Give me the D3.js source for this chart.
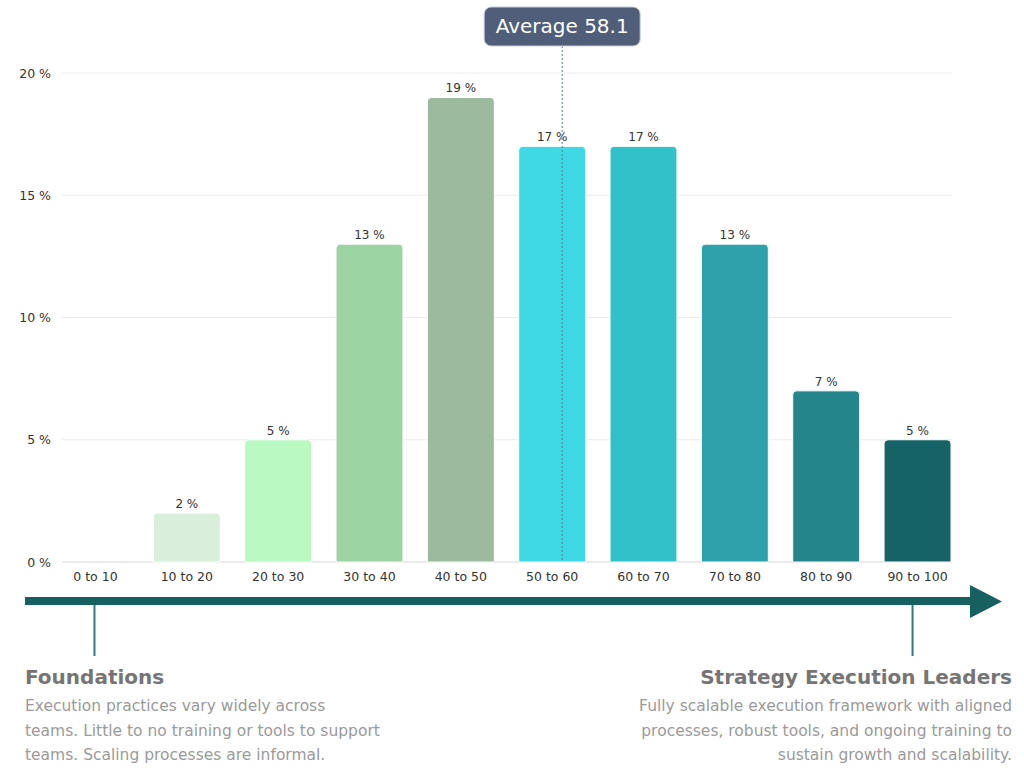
<!DOCTYPE html>
<html>
<head>
<meta charset="UTF-8" />
<title>Execution maturity distribution</title>
<script src="https://d3js.org/d3.v7.min.js"></script>
<style>
	body { margin: 0; background: #fff; }
	svg { font-family: "DejaVu Sans", Inter, sans-serif; }
</style>
</head>
<body>
<svg id="chart"></svg>
<script type="text/javascript">
// data
const categories = ["0 to 10", "10 to 20", "20 to 30", "30 to 40", "40 to 50",
	"50 to 60", "60 to 70", "70 to 80", "80 to 90", "90 to 100"]
const shares = [0, 2, 5, 13, 19, 17, 17, 13, 7, 5]
const barColors = ["#d9eedb", "#d9eedb", "#bbf9c3", "#9dd4a3", "#9bba9e",
	"#3ed9e3", "#33c1c9", "#2ea2aa", "#24868a", "#156367"]
const yTicks = [0, 5, 10, 15, 20]
const average = 58.1

const leftTitle = "Foundations"
const leftText = ["Execution practices vary widely across",
	"teams. Little to no training or tools to support",
	"teams. Scaling processes are informal."]
const rightTitle = "Strategy Execution Leaders"
const rightText = ["Fully scalable execution framework with aligned",
	"processes, robust tools, and ongoing training to",
	"sustain growth and scalability."]

const W = 1024, H = 774
const svg = d3.select("#chart").attr("width", W).attr("height", H)

const x = d3.scaleBand().domain(categories).range([62, 951])
	.paddingInner(0.267).paddingOuter(0)
const y = d3.scaleLinear().domain([0, 20]).range([562, 73])
// continuous 0..100 score axis used for the average marker
const score = d3.scaleLinear().domain([0, 100]).range([23, 951])

// gridlines
svg.append("g")
	.selectAll("line")
	.data(yTicks)
	.join("line")
	.attr("x1", 62).attr("x2", 952)
	.attr("y1", d => y(d)).attr("y2", d => y(d))
	.attr("stroke", d => d === 0 ? "#d6d6d6" : "#ececec")
	.attr("stroke-width", 1)

// y axis labels
svg.append("g")
	.selectAll("text")
	.data(yTicks)
	.join("text")
	.attr("x", 51).attr("y", d => y(d) + 4.5)
	.attr("text-anchor", "end")
	.attr("font-size", 12.5)
	.attr("fill", "#333")
	.text(d => d + " %")

// bars, rounded at the top
function topRounded(x0, y0, w, h, r) {
	if (h <= 0) return ""
	r = Math.min(r, h)
	const p = d3.path()
	p.moveTo(x0, y0 + h)
	p.lineTo(x0, y0 + r)
	p.quadraticCurveTo(x0, y0, x0 + r, y0)
	p.lineTo(x0 + w - r, y0)
	p.quadraticCurveTo(x0 + w, y0, x0 + w, y0 + r)
	p.lineTo(x0 + w, y0 + h)
	p.closePath()
	return p.toString()
}

const rows = categories.map((c, i) => ({ cat: c, v: shares[i], color: barColors[i] }))

svg.append("g")
	.selectAll("path")
	.data(rows)
	.join("path")
	.attr("d", d => topRounded(x(d.cat), y(d.v), x.bandwidth(), y(0) - y(d.v), 4))
	.attr("fill", d => d.color)
	.attr("stroke", "#ffffff")
	.attr("stroke-width", 1)

// value labels
svg.append("g")
	.selectAll("text")
	.data(rows.filter(d => d.v > 0))
	.join("text")
	.attr("x", d => x(d.cat) + x.bandwidth() / 2)
	.attr("y", d => y(d.v) - 5)
	.attr("text-anchor", "middle")
	.attr("font-size", 12)
	.attr("fill", "#333")
	.text(d => d.v + " %")

// category labels
svg.append("g")
	.selectAll("text")
	.data(categories)
	.join("text")
	.attr("x", d => x(d) + x.bandwidth() / 2)
	.attr("y", 581)
	.attr("text-anchor", "middle")
	.attr("font-size", 12.5)
	.attr("fill", "#333")
	.text(d => d)

// average marker
const ax = score(average)
svg.append("line")
	.attr("x1", ax).attr("x2", ax)
	.attr("y1", 46).attr("y2", y(0))
	.attr("stroke", "#4f7f8c")
	.attr("stroke-width", 1)
	.attr("stroke-dasharray", "2,2")

const avgG = svg.append("g").attr("transform", `translate(${ax},26)`)
avgG.append("rect")
	.attr("x", -78).attr("y", -19)
	.attr("width", 156).attr("height", 39)
	.attr("rx", 7)
	.attr("fill", "#505e79")
	.attr("stroke", "#c9ced8")
	.attr("stroke-width", 1)
avgG.append("text")
	.attr("text-anchor", "middle")
	.attr("y", 7)
	.attr("font-size", 20)
	.attr("fill", "#ffffff")
	.text("Average " + average)

// maturity arrow
const arrowColor = "#16605f"
svg.append("line")
	.attr("x1", 25).attr("x2", 972)
	.attr("y1", 601).attr("y2", 601)
	.attr("stroke", arrowColor)
	.attr("stroke-width", 8)
svg.append("path")
	.attr("d", "M970,585 L1002,601.5 L970,618 Z")
	.attr("fill", arrowColor)

// ticks down to the two end descriptions
const ends = [
	{ band: 0, shift: -1, title: leftTitle, lines: leftText, tx: 25, anchor: "start" },
	{ band: 9, shift: -5, title: rightTitle, lines: rightText, tx: 1012, anchor: "end" }
]
const endPos = d => x(categories[d.band]) + x.bandwidth() / 2 + d.shift

svg.append("g")
	.selectAll("line")
	.data(ends)
	.join("line")
	.attr("x1", endPos).attr("x2", endPos)
	.attr("y1", 605).attr("y2", 656)
	.attr("stroke", "#2b7a7c")
	.attr("stroke-width", 2)

const blocks = svg.append("g")
	.selectAll("g")
	.data(ends)
	.join("g")
	.attr("text-anchor", d => d.anchor)

blocks.append("text")
	.attr("x", d => d.tx).attr("y", 684)
	.attr("font-size", 20)
	.attr("font-weight", 700)
	.attr("fill", "#757575")
	.text(d => d.title)

blocks.each(function (d) {
	d3.select(this).selectAll("text.line")
		.data(d.lines)
		.join("text")
		.attr("class", "line")
		.attr("x", d.tx)
		.attr("y", (t, i) => 711 + i * 24.5)
		.attr("font-size", 15.5)
		.attr("fill", "#9a9a9a")
		.text(t => t)
})
</script>
</body>
</html>
